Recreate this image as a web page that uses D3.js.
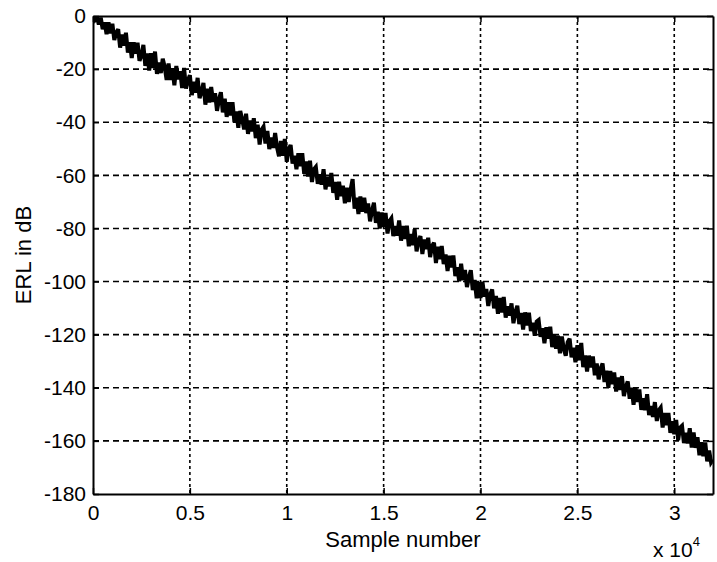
<!DOCTYPE html>
<html>
<head>
<meta charset="utf-8">
<script src="https://cdn.jsdelivr.net/npm/d3@7"></script>
<style>
  html, body { margin: 0; padding: 0; background: #fff; }
  svg text { font-family: "Liberation Sans", Arial, sans-serif; fill: #000; }
</style>
</head>
<body>
<svg id="chart" width="717" height="562"></svg>
<script>
// Sample spacing of the ERL trace (samples)
const sampleStep = 100;

// ERL in dB, one value every 100 samples from 0 to 32000
const erlDb = [
  0, -1.4, -0.3, -3.2, -0.6, -5.0, -2.4, -6.8, -2.4, -6.5,
  -2.9, -9.0, -6.2, -5.0, -11.9, -7.0, -11.2, -6.3, -13.8, -9.9,
  -15.8, -9.9, -14.2, -10.1, -16.9, -15.0, -10.9, -18.8, -14.1, -20.5,
  -14.0, -19.6, -13.4, -21.8, -17.5, -21.5, -16.1, -19.2, -24.1, -17.9,
  -24.1, -19.7, -26.1, -18.8, -23.8, -20.8, -27.1, -19.6, -27.3, -24.2,
  -22.3, -29.8, -24.8, -28.9, -23.3, -30.9, -28.6, -25.2, -33.4, -27.4,
  -32.6, -26.7, -32.3, -29.1, -35.7, -31.5, -28.7, -36.3, -31.1, -38.0,
  -32.5, -37.5, -32.5, -40.0, -36.0, -42.1, -35.8, -38.9, -42.7, -36.8,
  -44.4, -39.4, -43.5, -38.5, -46.0, -40.9, -48.4, -42.8, -41.7, -48.0,
  -43.3, -50.1, -45.8, -49.7, -44.1, -49.5, -52.8, -47.1, -52.6, -46.3,
  -54.9, -50.1, -48.6, -55.6, -52.6, -57.7, -51.7, -56.6, -51.7, -59.4,
  -54.8, -60.4, -54.5, -62.5, -57.7, -56.8, -63.2, -59.6, -63.5, -57.7,
  -65.3, -60.6, -64.1, -59.1, -66.6, -62.5, -69.2, -62.4, -67.8, -63.9,
  -70.5, -64.7, -70.0, -65.3, -61.4, -72.5, -68.4, -74.6, -68.0, -73.7,
  -68.4, -74.2, -70.6, -77.3, -73.3, -70.3, -77.9, -73.7, -80.0, -74.0,
  -79.4, -74.2, -81.9, -77.3, -76.2, -82.9, -79.1, -82.7, -77.0, -84.6,
  -79.1, -84.0, -79.0, -86.7, -82.1, -86.3, -80.3, -88.6, -84.6, -82.9,
  -89.6, -84.2, -87.8, -83.5, -90.8, -86.6, -85.4, -93.0, -86.9, -91.6,
  -86.6, -93.4, -89.8, -96.0, -90.3, -94.7, -90.2, -97.9, -94.6, -99.9,
  -93.3, -99.5, -95.6, -102.1, -98.5, -95.7, -103.2, -99.4, -106.3, -100.2,
  -106.2, -100.1, -105.6, -102.8, -109.2, -104.9, -103.0, -110.1, -105.4, -112.1,
  -106.2, -111.6, -105.8, -113.6, -109.3, -112.8, -108.2, -115.7, -111.5, -109.1,
  -116.0, -111.8, -118.1, -111.6, -116.5, -111.7, -118.6, -115.5, -120.4, -115.1,
  -114.5, -120.8, -117.6, -123.2, -117.2, -121.5, -117.0, -124.7, -120.1, -125.3,
  -120.4, -127.0, -120.7, -125.4, -127.9, -122.8, -121.5, -128.5, -124.9, -130.4,
  -124.0, -129.6, -123.1, -132.2, -127.8, -133.9, -127.9, -132.3, -128.2, -135.3,
  -130.9, -136.8, -132.8, -130.8, -137.8, -133.6, -140.0, -133.7, -138.6, -134.2,
  -141.4, -136.1, -140.8, -135.6, -143.1, -139.7, -137.6, -144.1, -140.0, -146.4,
  -139.9, -145.3, -140.6, -148.3, -144.0, -148.4, -142.4, -150.3, -146.9, -151.0,
  -145.4, -152.5, -148.5, -147.5, -155.0, -149.5, -154.1, -149.5, -157.0, -152.6,
  -157.5, -152.1, -159.7, -155.0, -154.3, -160.8, -157.0, -160.9, -155.2, -162.5,
  -156.8, -162.6, -158.6, -165.4, -160.5, -165.8, -160.6, -167.7, -163.6, -168.1,
  -167.0
];

// Axis ticks
const xTicks = [0, 5000, 10000, 15000, 20000, 25000, 30000];
const xTickLabels = ["0", "0.5", "1", "1.5", "2", "2.5", "3"];
const yTicks = [0, -20, -40, -60, -80, -100, -120, -140, -160, -180];

const xLabel = "Sample number";
const yLabel = "ERL in dB";

const margin = { left: 93, right: 4, top: 16, bottom: 68 };
const W = 717, H = 562;
const svg = d3.select("#chart");

const x = d3.scaleLinear().domain([0, 32000]).range([margin.left, W - margin.right]);
const y = d3.scaleLinear().domain([-180, 0]).range([H - margin.bottom, margin.top]);

const x0 = x.range()[0], x1 = x.range()[1];
const y0 = y.range()[0], y1 = y.range()[1];

// Clip so the thick trace stays inside the axes box
svg.append("clipPath").attr("id", "plot-area")
  .append("rect").attr("x", x0).attr("y", y1).attr("width", x1 - x0).attr("height", y0 - y1);

// Grid lines
const grid = svg.append("g").attr("stroke", "#000").attr("stroke-width", 1.6).attr("fill", "none");
grid.selectAll("line.v").data(xTicks.slice(1)).join("line")
  .attr("class", "v")
  .attr("x1", d => x(d)).attr("x2", d => x(d))
  .attr("y1", y1).attr("y2", y0)
  .attr("stroke-dasharray", "3,3");
grid.selectAll("line.h").data(yTicks.slice(1, -1)).join("line")
  .attr("class", "h")
  .attr("y1", d => y(d)).attr("y2", d => y(d))
  .attr("x1", x0).attr("x2", x1)
  .attr("stroke-dasharray", "6,4");

// ERL trace
const line = d3.line()
  .x((d, i) => x(i * sampleStep))
  .y(d => y(d));
svg.append("path")
  .datum(erlDb)
  .attr("d", line)
  .attr("clip-path", "url(#plot-area)")
  .attr("fill", "none")
  .attr("stroke", "#000")
  .attr("stroke-width", 4)
  .attr("stroke-linejoin", "miter")
  .attr("stroke-miterlimit", 3);

// Axes (box with inward ticks)
const xAxis = d3.axisBottom(x).tickValues(xTicks).tickFormat((d, i) => xTickLabels[i])
  .tickSizeInner(-6).tickSizeOuter(0).tickPadding(11);
const yAxis = d3.axisLeft(y).tickValues(yTicks).tickFormat(d3.format("d"))
  .tickSizeInner(-6).tickSizeOuter(0).tickPadding(7);

const gx = svg.append("g").attr("transform", `translate(0,${y0})`).call(xAxis);
const gy = svg.append("g").attr("transform", `translate(${x0},0)`).call(yAxis);
[gx, gy].forEach(g => {
  g.select(".domain").attr("stroke", "#000").attr("stroke-width", 2);
  g.selectAll(".tick line").attr("stroke", "#000").attr("stroke-width", 1.5);
  g.selectAll(".tick text").attr("font-size", 21).attr("font-family", "Liberation Sans, Arial, sans-serif").attr("fill", "#000");
});
gy.selectAll(".tick text").text(d => d === 0 ? "0" : "-" + Math.abs(d));

// Top and right box edges with inward ticks
const gt = svg.append("g").attr("transform", `translate(0,${y1})`)
  .call(d3.axisTop(x).tickValues(xTicks).tickFormat("").tickSizeInner(-6).tickSizeOuter(0));
const gr = svg.append("g").attr("transform", `translate(${x1},0)`)
  .call(d3.axisRight(y).tickValues(yTicks).tickFormat("").tickSizeInner(-6).tickSizeOuter(0));
[gt, gr].forEach(g => {
  g.select(".domain").attr("stroke", "#000").attr("stroke-width", 2);
  g.selectAll(".tick line").attr("stroke", "#000").attr("stroke-width", 1.5);
});

// Axis labels
svg.append("text")
  .attr("x", 403).attr("y", 547)
  .attr("text-anchor", "middle").attr("font-size", 22)
  .text(xLabel);
svg.append("text")
  .attr("transform", `translate(31,${(y0 + y1) / 2}) rotate(-90)`)
  .attr("text-anchor", "middle").attr("font-size", 22)
  .text(yLabel);

// Exponent of the x axis
const expo = svg.append("text")
  .attr("x", 653).attr("y", 557).attr("font-size", 21);
expo.append("tspan").text("x 10");
expo.append("tspan").attr("dy", -11).attr("font-size", 13).text("4");
</script>
</body>
</html>
